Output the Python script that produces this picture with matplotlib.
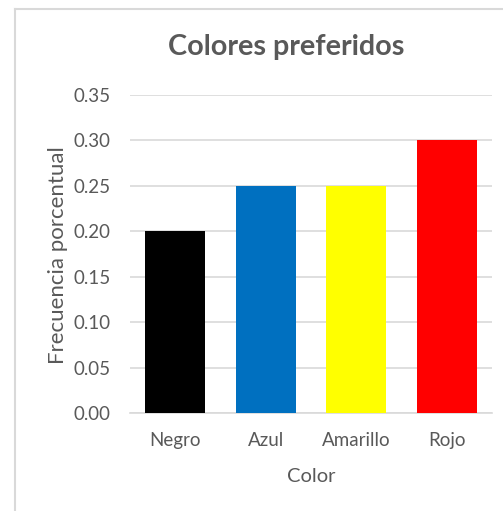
import matplotlib
matplotlib.use("Agg")
import matplotlib.pyplot as plt
from matplotlib.lines import Line2D

categories = ["Negro", "Azul", "Amarillo", "Rojo"]
values = [0.20, 0.25, 0.25, 0.30]
bar_colors = ["#000000", "#0070C0", "#FFFF00", "#FF0000"]
yticks = [0.00, 0.05, 0.10, 0.15, 0.20, 0.25, 0.30, 0.35]
title = "Colores preferidos"
xlabel = "Color"
ylabel = "Frecuencia porcentual"

plt.rcParams['font.family'] = ['Lato', 'DejaVu Sans']
txt = "#595959"
grid = "#D9D9D9"

fig = plt.figure(figsize=(5.03, 5.11), dpi=100)
ax = fig.add_axes([130/503, 1-413/511, 362/503, (413-95)/511])

x = range(len(categories))
ax.bar(x, values, width=0.66, color=bar_colors, zorder=3)
ax.set_xlim(-0.5, len(categories)-0.5)
ax.set_ylim(0, 0.35)
ax.set_yticks(yticks)
ax.set_yticklabels([f"{v:.2f}" for v in yticks])
ax.set_xticks(list(x))
ax.set_xticklabels(categories)
ax.yaxis.grid(True, color=grid, lw=1.2, zorder=0)
ax.tick_params(axis='both', length=0, labelsize=13.5, colors=txt)
ax.tick_params(axis='y', pad=14)
ax.tick_params(axis='x', pad=14)
for s in ['top', 'right', 'left']:
    ax.spines[s].set_visible(False)
ax.spines['bottom'].set_color(grid)
ax.spines['bottom'].set_linewidth(1.2)
ax.set_xlabel(xlabel, fontsize=14.5, color=txt)
ax.set_ylabel(ylabel, fontsize=16, color=txt)
ax.xaxis.set_label_coords((311-130)/362, -(476-413)/318)
ax.yaxis.set_label_coords(-(130-58)/362, (413-255)/318)
ax.xaxis.label.set_va('center')
ax.yaxis.label.set_va('center')

fig.text(286/503, 1-47/511, title, fontsize=20.7, fontweight='bold', color=txt,
         ha='center', va='center')

# chart border (top and left edges visible)
fig.add_artist(Line2D([15/503, 1], [1-9/511, 1-9/511], color=grid, lw=1.5,
                      transform=fig.transFigure))
fig.add_artist(Line2D([15/503, 15/503], [0, 1-9/511], color=grid, lw=1.5,
                      transform=fig.transFigure))

fig.savefig("out.png", dpi=100)
